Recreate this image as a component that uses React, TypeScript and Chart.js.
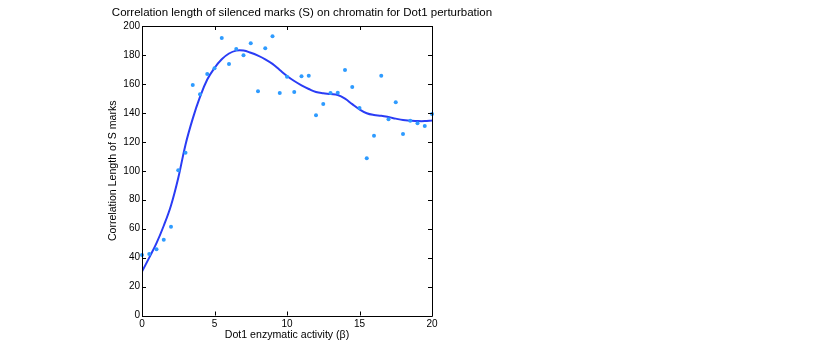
import React, { useEffect, useRef } from "react";
import { Chart, registerables } from "chart.js";

Chart.register(...registerables);

const xValues: number[] = [
  0, 0.5, 1, 1.5, 2, 2.5, 3, 3.5, 4, 4.5, 5, 5.5, 6, 6.5, 7, 7.5, 8, 8.5, 9, 9.5,
  10, 10.5, 11, 11.5, 12, 12.5, 13, 13.5, 14, 14.5, 15, 15.5, 16, 16.5, 17, 17.5,
  18, 18.5, 19, 19.5, 20,
];

const pointValues: number[] = [
  41.8, 42.5, 45.7, 52.4, 61.3, 100.3, 112.5, 159.2, 152.8, 166.8, 170.8, 191.7,
  173.7, 184.1, 179.8, 188.0, 154.9, 184.6, 192.9, 153.7, 164.9, 154.4, 165.2,
  165.7, 138.3, 146.1, 153.7, 153.9, 169.6, 157.9, 143.3, 108.6, 124.2, 165.7,
  135.5, 147.3, 125.4, 134.6, 132.8, 130.9, 139.2,
];

const curveValues: number[] = [
  30.3, 40.0, 50.0, 62.0, 76.0, 95.0, 118.0, 136.0, 151.0, 163.0, 171.0, 177.0,
  181.0, 183.0, 183.0, 181.5, 179.5, 177.0, 173.8, 169.6, 165.5, 162.0, 159.0,
  156.5, 154.4, 153.5, 153.0, 152.3, 149.8, 146.0, 142.4, 139.7, 138.5, 138.0,
  137.1, 136.0, 135.0, 134.6, 134.3, 134.3, 134.8,
];

const xTicks: number[] = [0, 5, 10, 15, 20];
const yTicks: number[] = [0, 20, 40, 60, 80, 100, 120, 140, 160, 180, 200];

const chartTitle = "Correlation length of silenced marks (S) on chromatin for Dot1 perturbation";
const xTitle = "Dot1 enzymatic activity (\u03b2)";
const yTitle = "Correlation Length of S marks";

const FONT = "'Liberation Sans', Arial, Helvetica, sans-serif";

const boxPlugin = {
  id: "boxTicks",
  afterDraw(chart: any) {
    const { ctx, chartArea } = chart;
    const { left, right, top, bottom } = chartArea;
    const xs = chart.scales.x;
    const ys = chart.scales.y;
    const tl = 4;
    ctx.save();
    ctx.strokeStyle = "#000";
    ctx.lineWidth = 1;
    ctx.beginPath();
    ctx.rect(Math.round(left) + 0.5, Math.round(top) + 0.5, Math.round(right - left), Math.round(bottom - top));
    for (const v of xTicks) {
      const px = Math.round(xs.getPixelForValue(v)) + 0.5;
      ctx.moveTo(px, bottom);
      ctx.lineTo(px, bottom - tl);
      ctx.moveTo(px, top);
      ctx.lineTo(px, top + tl);
    }
    for (const v of yTicks) {
      const py = Math.round(ys.getPixelForValue(v)) + 0.5;
      ctx.moveTo(left, py);
      ctx.lineTo(left + tl, py);
      ctx.moveTo(right, py);
      ctx.lineTo(right - tl, py);
    }
    ctx.stroke();
    ctx.fillStyle = "#000";
    ctx.font = `11.5px ${FONT}`;
    ctx.textAlign = "center";
    ctx.textBaseline = "middle";
    ctx.fillText(chartTitle, 302, 13);
    ctx.restore();
  },
};

export default function App() {
  const ref = useRef<HTMLCanvasElement | null>(null);

  useEffect(() => {
    if (!ref.current) return;
    const chart = new Chart(ref.current, {
      type: "scatter",
      data: {
        datasets: [
          {
            type: "line",
            label: "fit",
            data: xValues.map((x, i) => ({ x, y: curveValues[i] })),
            borderColor: "#2a3cf5",
            borderWidth: 2,
            pointRadius: 0,
            tension: 0.4,
            fill: false,
            order: 2,
          } as any,
          {
            type: "scatter",
            label: "data",
            data: xValues.map((x, i) => ({ x, y: pointValues[i] })),
            backgroundColor: "#2e9bff",
            borderColor: "#2e9bff",
            borderWidth: 0,
            pointRadius: 2,
            clip: false,
            order: 1,
          } as any,
        ],
      },
      plugins: [boxPlugin],
      options: {
        animation: false,
        responsive: false,
        devicePixelRatio: 1,
        layout: { padding: { left: 0, right: 385, top: 26, bottom: 0 } },
        plugins: {
          legend: { display: false },
          tooltip: { enabled: false },
          title: { display: false },
        },
        scales: {
          x: {
            type: "linear",
            min: 0,
            max: 20,
            afterBuildTicks: (s: any) => {
              s.ticks = xTicks.map((v) => ({ value: v }));
            },
            afterFit: (s: any) => {
              s.height = 40.5;
            },
            grid: { display: false, drawTicks: false },
            border: { display: false },
            ticks: {
              color: "#000",
              padding: 3,
              font: { family: FONT, size: 10 },
              maxRotation: 0,
            },
            title: {
              display: true,
              text: xTitle,
              color: "#000",
              font: { family: FONT, size: 10.6 },
              padding: { top: 0, bottom: 14.5 },
            },
          },
          y: {
            type: "linear",
            min: 0,
            max: 200,
            afterBuildTicks: (s: any) => {
              s.ticks = yTicks.map((v) => ({ value: v }));
            },
            afterFit: (s: any) => {
              s.width = 142;
            },
            grid: { display: false, drawTicks: false },
            border: { display: false },
            ticks: {
              color: "#000",
              padding: 2,
              font: { family: FONT, size: 10 },
            },
            title: {
              display: true,
              text: yTitle,
              color: "#000",
              font: { family: FONT, size: 10.6 },
              padding: { top: 107, bottom: 0 },
            },
          },
        },
      },
    });
    return () => chart.destroy();
  }, []);

  return (
    <div style={{ position: "absolute", left: 0, top: 0, width: 817, height: 356, background: "#fff" }}>
      <canvas ref={ref} width={817} height={356} style={{ width: 817, height: 356, display: "block" }} />
    </div>
  );
}
